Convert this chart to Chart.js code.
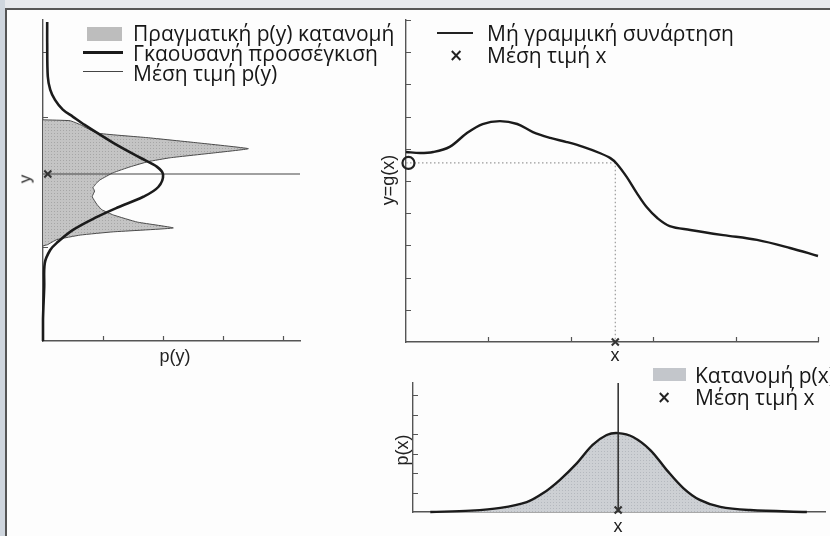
<!DOCTYPE html>
<html>
<head>
<meta charset="utf-8">
<script src="https://cdn.jsdelivr.net/npm/chart.js@4.4.1/dist/chart.umd.min.js"></script>
<style>
  html, body { margin: 0; padding: 0; width: 830px; height: 536px; overflow: hidden; background: #fff; }
  #page { position: relative; width: 830px; height: 536px; background: #fdfdfd; overflow: hidden; }
  #page canvas { position: absolute; }
  .edgeTop { position: absolute; left: 0; top: 0; width: 830px; height: 8px; background: #e6e8ec; }
  .edgeLeft { position: absolute; left: 0; top: 0; width: 5px; height: 536px; background: #cfd6de; }
  .ruleTop { position: absolute; left: 5px; top: 8px; width: 825px; height: 2px; background: #555; }
  .ruleLeft { position: absolute; left: 5px; top: 8px; width: 2px; height: 528px; background: #555; }
  .lbl { position: absolute; font-family: "Liberation Sans", Arial, sans-serif; font-size: 18px; color: #222;
         white-space: nowrap; line-height: 1; transform: translate(-50%, -50%); }
  .rot { transform: translate(-50%, -50%) rotate(-90deg); }
  .leg { position: absolute; font-family: "Open Sans", sans-serif; font-size: 21px; color: #161616;
         white-space: nowrap; line-height: 1; transform: translateY(-50%); }
  .sw { position: absolute; }
  .mark { position: absolute; font-family: "DejaVu Sans", sans-serif; font-size: 17px; font-weight: bold; color: #222;
          line-height: 1; transform: translate(-50%, -50%); }
</style>
</head>
<body>
<div id="page">
  <div class="edgeTop"></div>
  <div class="edgeLeft"></div>
  <div class="ruleTop"></div>
  <div class="ruleLeft"></div>

  <canvas id="pyChart" width="285" height="349" style="left:29px;top:6px;width:285px;height:349px;"></canvas>
  <canvas id="gChart" width="440" height="350" style="left:392px;top:6px;width:440px;height:350px;"></canvas>
  <canvas id="pxChart" width="440" height="157" style="left:399px;top:369px;width:440px;height:157px;"></canvas>

  <!-- legend of the p(y) panel -->
  <div class="sw" style="left:87px;top:27px;width:35px;height:14px;background:#bdbdbd;"></div>
  <div class="leg" style="left:133px;top:33px;">Πραγματική p(y) κατανομή</div>
  <div class="sw" style="left:83px;top:51px;width:40px;height:3px;background:#1a1a1a;"></div>
  <div class="leg" style="left:133px;top:53px;">Γκαουσανή προσσέγκιση</div>
  <div class="sw" style="left:83px;top:71px;width:40px;height:1.3px;background:#444;"></div>
  <div class="leg" style="left:133px;top:73px;">Μέση τιμή p(y)</div>

  <!-- legend of the g(x) panel -->
  <div class="sw" style="left:437px;top:32px;width:36px;height:1.6px;background:#222;"></div>
  <div class="leg" style="left:487px;top:33px;">Μή γραμμική συνάρτηση</div>
  <div class="mark" style="left:456px;top:55px;">×</div>
  <div class="leg" style="left:487px;top:55px;">Μέση τιμή x</div>

  <!-- legend of the p(x) panel -->
  <div class="sw" style="left:653px;top:368px;width:33px;height:13px;background:#c3c6cb;"></div>
  <div class="leg" style="left:695px;top:375px;">Κατανομή p(x)</div>
  <div class="mark" style="left:664px;top:397px;">×</div>
  <div class="leg" style="left:695px;top:397px;">Μέση τιμή x</div>

  <!-- axis titles -->
  <div class="lbl" style="left:175px;top:356px;">p(y)</div>
  <div class="lbl rot" style="left:25px;top:179px;font-size:17px;">y</div>
  <div class="lbl rot" style="left:388px;top:180px;">y=g(x)</div>
  <div class="lbl" style="left:615px;top:355px;">x</div>
  <div class="lbl rot" style="left:402px;top:450px;">p(x)</div>
  <div class="lbl" style="left:618px;top:526px;">x</div>
</div>

<script>
// ---- p(y) panel: y runs vertically, density horizontally ----
const gaussY = [3.46, 3.14, 2.62, 2.42, 2.26, 2.11, 2.00, 1.89, 1.60, 1.37, 1.23, 1.11, 0.92, 0.77, 0.60, 0.46, 0.26, 0.06, -0.05, -0.25, -0.62, -1.12, -1.45];
const gaussP = [0.07, 0.07, 0.08, 0.12, 0.20, 0.33, 0.50, 0.67, 1.17, 1.62, 1.90, 2.00, 1.92, 1.67, 1.23, 0.90, 0.50, 0.23, 0.12, 0.03, 0.02, 0.00, 0.00];

const trueY = [1.954, 1.94, 1.88, 1.75, 1.68, 1.60, 1.51, 1.45, 1.37, 1.31, 1.23, 1.14, 1.03, 0.97, 0.93, 0.91, 0.86, 0.77, 0.65, 0.57, 0.49, 0.38, 0.29, 0.23, 0.18, 0.11, 0.03, 0.015];
const trueP = [0.00, 0.45, 0.62, 0.90, 1.73, 2.57, 3.42, 2.90, 2.12, 1.75, 1.45, 1.17, 0.95, 0.88, 0.85, 0.83, 0.86, 0.82, 0.90, 0.98, 1.17, 1.57, 2.17, 1.17, 0.62, 0.23, 0.07, 0.00];

const meanY = 1.12;
const pyTicksX = [1, 2, 3, 4];
const pyTicksY = [0, 1, 2, 3];

// ---- y = g(x) panel ----
const gX = [0, 0.17, 0.33, 0.53, 0.74, 0.93, 1.14, 1.35, 1.54, 1.75, 1.95, 2.15, 2.35, 2.48, 2.56, 2.68, 2.80, 2.92, 3.05, 3.20, 3.45, 3.85, 4.26, 4.66, 5.00];
const gY = [5.90, 5.87, 5.90, 6.06, 6.49, 6.77, 6.86, 6.77, 6.52, 6.34, 6.21, 6.06, 5.87, 5.71, 5.53, 5.12, 4.63, 4.19, 3.85, 3.60, 3.48, 3.32, 3.17, 2.92, 2.67];
const meanX = 2.54;
const gAtMean = 5.56;
const gTicksX = [1, 2, 3, 4, 5];
const gTicksY = [1, 2, 3, 4, 5, 6, 7, 8, 9, 10];

// ---- p(x) panel ----
const pX = [0.21, 0.70, 1.06, 1.38, 1.58, 1.78, 1.99, 2.18, 2.35, 2.49, 2.67, 2.88, 3.08, 3.28, 3.48, 3.73, 4.09, 4.78];
const pV = [0.00, 0.07, 0.21, 0.51, 0.97, 1.64, 2.51, 3.44, 3.95, 4.05, 3.85, 3.18, 2.15, 1.23, 0.62, 0.26, 0.10, 0.00];
const meanXBottom = 2.49;
const pxTicksY = [1, 2, 3, 4, 5, 6];

const ink = '#1b1b1b';
const axisColor = '#555';

// halftone-like grey fill
function screenFill(base, dot) {
  const c = document.createElement('canvas');
  c.width = 3; c.height = 3;
  const g = c.getContext('2d');
  g.fillStyle = base; g.fillRect(0, 0, 3, 3);
  g.fillStyle = dot; g.fillRect(1, 1, 1, 1);
  return g.createPattern(c, 'repeat');
}

// short tick marks pointing into the plot from the left and bottom axes
const inwardTicks = {
  id: 'inwardTicks',
  beforeDatasetsDraw(chart, args, opts) {
    const { ctx } = chart;
    const xs = chart.scales.x, ys = chart.scales.y;
    const len = opts.len || 5;
    ctx.save();
    ctx.strokeStyle = axisColor;
    ctx.lineWidth = 1.2;
    ctx.beginPath();
    (opts.x || []).forEach(v => {
      const px = Math.round(xs.getPixelForValue(v)) + 0.5;
      ctx.moveTo(px, ys.bottom); ctx.lineTo(px, ys.bottom - len);
    });
    (opts.y || []).forEach(v => {
      const py = Math.round(ys.getPixelForValue(v)) + 0.5;
      ctx.moveTo(xs.left, py); ctx.lineTo(xs.left + len, py);
    });
    ctx.stroke();
    ctx.restore();
  }
};

function axis(min, max) {
  return {
    type: 'linear', min, max,
    border: { display: true, color: axisColor, width: 1.4 },
    grid: { display: false, drawTicks: false },
    ticks: { display: false }
  };
}

const common = {
  responsive: false,
  animation: false,
  events: [],
  layout: { padding: 14 },
  plugins: { legend: { display: false }, tooltip: { enabled: false } }
};

// p(y) panel (higher "order" is painted further back)
new Chart(document.getElementById('pyChart'), {
  type: 'line',
  data: {
    datasets: [
      {
        order: 3,
        data: trueY.map((y, i) => ({ x: trueP[i], y })),
        borderColor: '#4a4a4a', borderWidth: 1,
        backgroundColor: screenFill('#c4c4c4', '#a6a6a6'),
        fill: 'origin', pointRadius: 0, tension: 0.12, clip: false
      },
      {
        order: 2,
        data: [{ x: 0, y: meanY }, { x: 4.28, y: meanY }],
        borderColor: '#444', borderWidth: 1.2, pointRadius: 0, fill: false, clip: false
      },
      {
        order: 1,
        data: gaussY.map((y, i) => ({ x: gaussP[i], y })),
        borderColor: ink, borderWidth: 2.6, pointRadius: 0, fill: false, tension: 0.35, clip: false
      },
      {
        order: 0,
        data: [{ x: 0.08, y: meanY }],
        showLine: false, pointStyle: 'crossRot', pointRadius: 5, borderWidth: 2,
        borderColor: '#333', clip: false
      }
    ]
  },
  options: {
    ...common,
    indexAxis: 'y',
    scales: { x: axis(0, 4.28), y: axis(-1.45, 3.49) },
    plugins: { ...common.plugins, inwardTicks: { x: pyTicksX, y: pyTicksY, len: 5 } }
  },
  plugins: [inwardTicks]
});

// y = g(x) panel
new Chart(document.getElementById('gChart'), {
  type: 'scatter',
  data: {
    datasets: [
      {
        order: 3,
        data: [{ x: 0, y: gAtMean }, { x: meanX, y: gAtMean }, { x: meanX, y: 0 }],
        showLine: true, borderColor: '#9a9a9a', borderWidth: 1.2, borderDash: [1.5, 2.5],
        pointRadius: 0, clip: false
      },
      {
        order: 2,
        data: gX.map((x, i) => ({ x, y: gY[i] })),
        showLine: true, borderColor: ink, borderWidth: 2.4, pointRadius: 0, tension: 0.35, clip: false
      },
      {
        order: 1,
        data: [{ x: 0.03, y: gAtMean }],
        pointStyle: 'circle', pointRadius: 6, borderWidth: 2.2, borderColor: '#222',
        backgroundColor: 'rgba(255,255,255,0)', clip: false
      },
      {
        order: 0,
        data: [{ x: meanX, y: 0 }],
        pointStyle: 'crossRot', pointRadius: 5, borderWidth: 2, borderColor: '#333', clip: false
      }
    ]
  },
  options: {
    ...common,
    scales: { x: axis(0, 5), y: axis(0, 10) },
    plugins: { ...common.plugins, inwardTicks: { x: gTicksX, y: gTicksY, len: 5 } }
  },
  plugins: [inwardTicks]
});

// p(x) panel
new Chart(document.getElementById('pxChart'), {
  type: 'scatter',
  data: {
    datasets: [
      {
        order: 2,
        data: pX.map((x, i) => ({ x, y: pV[i] })),
        showLine: true, borderColor: ink, borderWidth: 2.4,
        backgroundColor: screenFill('#cdd0d4', '#b4b8be'),
        fill: 'origin', pointRadius: 0, tension: 0.35, clip: false
      },
      {
        order: 1,
        data: [{ x: meanXBottom, y: 0 }, { x: meanXBottom, y: 6.62 }],
        showLine: true, borderColor: '#2a2a2a', borderWidth: 1.5, pointRadius: 0, clip: false
      },
      {
        order: 0,
        data: [{ x: meanXBottom, y: 0.1 }],
        pointStyle: 'crossRot', pointRadius: 5, borderWidth: 2.2, borderColor: '#333', clip: false
      }
    ]
  },
  options: {
    ...common,
    scales: { x: axis(0, 5), y: axis(0, 6.62) },
    plugins: { ...common.plugins, inwardTicks: { x: [], y: pxTicksY, len: 5 } }
  },
  plugins: [inwardTicks]
});
</script>
</body>
</html>
